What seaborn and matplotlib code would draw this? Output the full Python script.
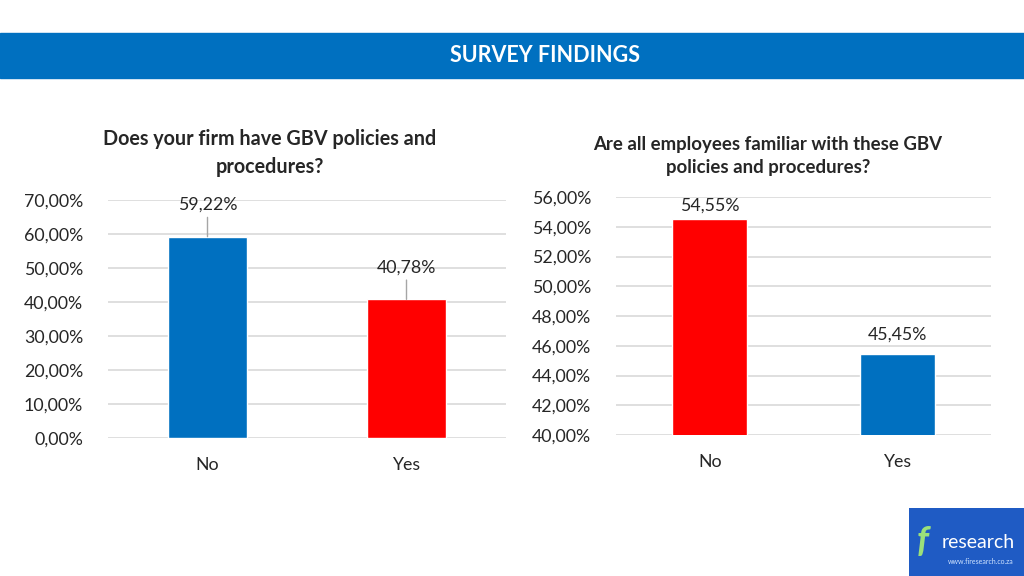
import matplotlib
matplotlib.use("Agg")
import matplotlib.pyplot as plt
import matplotlib.patches as mpatches
from matplotlib.ticker import FuncFormatter, MultipleLocator
import pandas as pd
import seaborn as sns

# data
answers = ["No", "Yes"]
has_policy_pct = [59.22, 40.78]
familiar_pct = [54.55, 45.45]

title_left = "Does your firm have GBV policies and\nprocedures?"
title_right = "Are all employees familiar with these GBV\npolicies and procedures?"
header = "SURVEY FINDINGS"

BLUE = "#0070C0"
RED = "#FF0000"
TXT = "#262626"

sns.set_theme(style="white")
plt.rcParams["font.family"] = ["Lato", "DejaVu Sans"]


def pct_fmt(v, pos=None):
    return f"{v:.2f}%".replace(".", ",")


fig = plt.figure(figsize=(10.24, 5.76), dpi=100)
fig.patch.set_facecolor("white")

# blue header band
fig.patches.append(mpatches.Rectangle((0, 1 - 78 / 576), 1, 45 / 576,
                                      transform=fig.transFigure, color=BLUE, zorder=0))
fig.text(545 / 1024, 1 - 56 / 576, header, color="white", fontsize=15.5,
         fontweight="bold", ha="center", va="center")


def draw(ax, values, colors, ymin, ymax, step, title, title_x, title_y, tsize,
         offsets, leader):
    df = pd.DataFrame({"answer": answers, "pct": values})
    sns.barplot(data=df, x="answer", y="pct", hue="answer", palette=colors,
                width=0.4, saturation=1, legend=False, ax=ax, zorder=3)
    ax.set_ylim(ymin, ymax)
    ax.yaxis.set_major_locator(MultipleLocator(step))
    ax.yaxis.set_major_formatter(FuncFormatter(pct_fmt))
    ax.grid(axis="y", color="#D9D9D9", linewidth=1.2, zorder=0)
    ax.set_axisbelow(True)
    for s in ax.spines.values():
        s.set_visible(False)
    ax.set_xlabel("")
    ax.set_ylabel("")
    ax.tick_params(axis="y", labelsize=12.8, labelcolor=TXT, pad=18, length=0)
    ax.tick_params(axis="x", labelsize=12.8, labelcolor=TXT, pad=14, length=0)
    for i, v in enumerate(values):
        if leader:
            ax.annotate(pct_fmt(v), xy=(i, v), xytext=(0, offsets[i]),
                        textcoords="offset points", ha="center", va="center",
                        fontsize=12.8, color=TXT,
                        arrowprops=dict(arrowstyle="-", color="#A6A6A6", lw=1,
                                        shrinkA=1, shrinkB=0))
        else:
            ax.annotate(pct_fmt(v), xy=(i, v), xytext=(0, offsets[i]),
                        textcoords="offset points", ha="center", va="center",
                        fontsize=12.8, color=TXT)
    fig.text(title_x, title_y, title, ha="center", va="center", fontsize=tsize,
             fontweight="bold", color=TXT, linespacing=1.45)


ax1 = fig.add_axes([108 / 1024, 1 - 438 / 576, 398 / 1024, 238 / 576])
draw(ax1, has_policy_pct, [BLUE, RED], 0, 70, 10, title_left,
     270 / 1024, 1 - 153 / 576, 14.2, [23, 23], True)

ax2 = fig.add_axes([616 / 1024, 1 - 435 / 576, 375 / 1024, 238 / 576])
draw(ax2, familiar_pct, [RED, BLUE], 40, 56, 2, title_right,
     768 / 1024, 1 - 156 / 576, 13.4, [9, 14], False)

# logo block, bottom right
lax = fig.add_axes([909 / 1024, 0, 115 / 1024, 68 / 576])
lax.set_facecolor("#1F5BC4")
lax.set_xticks([])
lax.set_yticks([])
for s in lax.spines.values():
    s.set_visible(False)
lax.text(0.6, 0.5, "research", color="white", fontsize=14, ha="center", va="center",
         transform=lax.transAxes)
lax.text(0.62, 0.22, "www.firesearch.co.za", color="#CFE3FF", fontsize=5,
         ha="center", va="center", transform=lax.transAxes)
lax.text(0.12, 0.5, "f", color="#9BE07A", fontsize=26, fontstyle="italic",
         fontweight="bold", ha="center", va="center", transform=lax.transAxes)

fig.savefig("out.png", dpi=100)
